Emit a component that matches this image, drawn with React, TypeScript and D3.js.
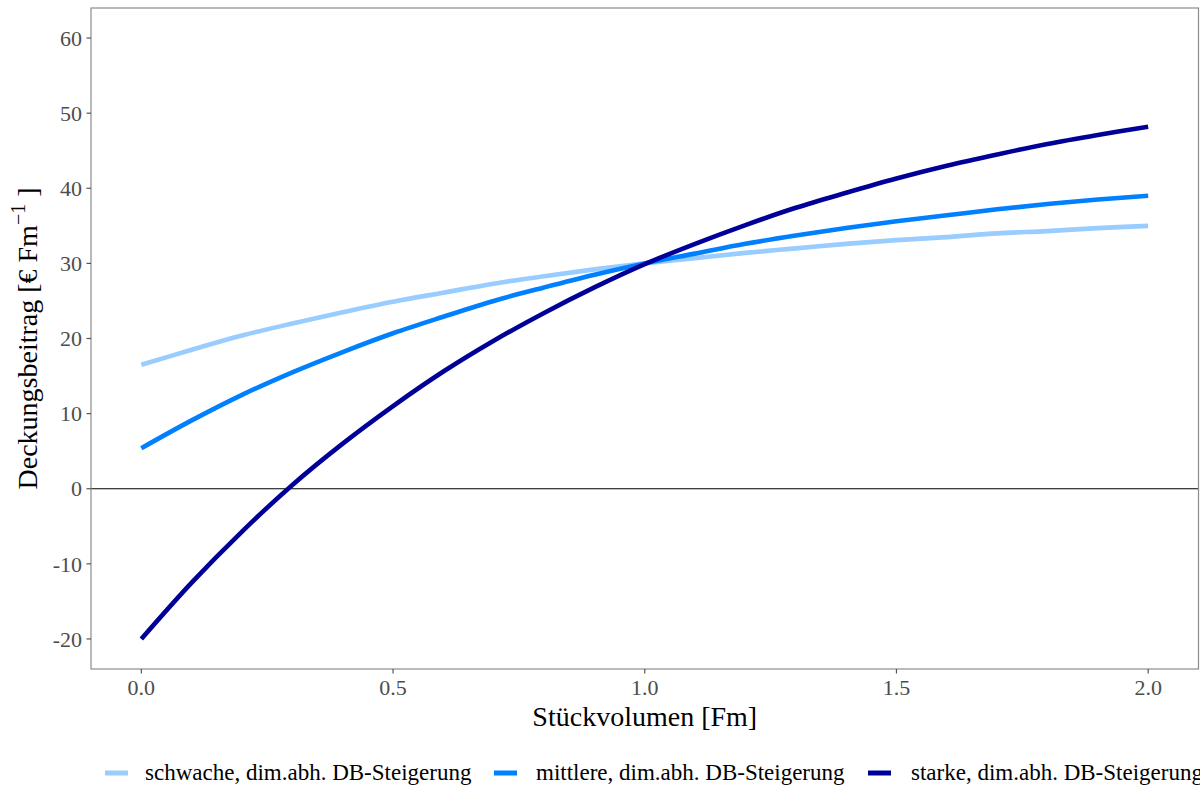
import React from "react";
import * as d3 from "d3";

// Stückvolumen [Fm]
const volumes = [0, 0.1, 0.2, 0.3, 0.4, 0.5, 0.6, 0.7, 0.8, 0.9, 1.0, 1.1, 1.2, 1.3, 1.4, 1.5, 1.6, 1.7, 1.8, 1.9, 2.0];

// Deckungsbeitrag [€ Fm^-1] per scenario
const schwache = [16.5, 18.5, 20.4, 22.0, 23.5, 24.9, 26.1, 27.3, 28.3, 29.2, 30.0, 30.7, 31.4, 32.0, 32.6, 33.1, 33.5, 34.0, 34.3, 34.7, 35.0];
const mittlere = [5.4, 9.1, 12.5, 15.5, 18.2, 20.7, 22.9, 25.0, 26.8, 28.5, 30.0, 31.3, 32.6, 33.7, 34.7, 35.6, 36.4, 37.2, 37.9, 38.5, 39.0];
const starke = [-20.0, -12.5, -5.7, 0.5, 6.0, 11.0, 15.6, 19.7, 23.4, 26.8, 29.9, 32.6, 35.1, 37.4, 39.4, 41.3, 43.0, 44.5, 45.9, 47.1, 48.2];

const seriesNames = [
  "schwache, dim.abh. DB-Steigerung",
  "mittlere, dim.abh. DB-Steigerung",
  "starke, dim.abh. DB-Steigerung",
];
const seriesColors = ["#99CCFF", "#0080FF", "#000099"];

const xTicks = [0, 0.5, 1.0, 1.5, 2.0];
const yTicks = [-20, -10, 0, 10, 20, 30, 40, 50, 60];

const W = 1200;
const H = 787;
const FONT = "'Liberation Serif', 'Times New Roman', serif";

export default function App() {
  const left = 91;
  const right = 1198.5;
  const top = 8;
  const bottom = 669;

  const x = d3.scaleLinear().domain([-0.1, 2.1]).range([left, right]);
  const y = d3.scaleLinear().domain([-24, 64]).range([bottom, top]);

  const series = [schwache, mittlere, starke];
  const line = d3
    .line<number>()
    .x((_, i) => x(volumes[i]))
    .y((d) => y(d))
    .curve(d3.curveCatmullRom.alpha(0.5));

  // legend layout along the bottom
  const legendY = 773;
  const legendItems = [
    { keyX: 105, textX: 145 },
    { keyX: 494, textX: 536 },
    { keyX: 868, textX: 911 },
  ];

  return (
    <svg
      width={W}
      height={H}
      style={{ position: "absolute", left: 0, top: 0, background: "#fff" }}
      fontFamily={FONT}
    >
      <rect x={0} y={0} width={W} height={H} fill="#fff" />

      {/* zero reference line */}
      <line x1={left} x2={right} y1={y(0)} y2={y(0)} stroke="#000" strokeWidth={1.2} />

      {/* curves */}
      {series.map((s, i) => (
        <path
          key={i}
          d={line(s) || ""}
          fill="none"
          stroke={seriesColors[i]}
          strokeWidth={4.6}
          strokeLinecap="butt"
          strokeLinejoin="round"
        />
      ))}

      {/* panel border */}
      <rect
        x={left}
        y={top}
        width={right - left}
        height={bottom - top}
        fill="none"
        stroke="#8c8c8c"
        strokeWidth={1.2}
      />

      {/* y axis */}
      {yTicks.map((t) => (
        <g key={t}>
          <line x1={left - 4.5} x2={left} y1={y(t)} y2={y(t)} stroke="#555" strokeWidth={1.2} />
          <text
            x={left - 9}
            y={y(t)}
            dy="0.35em"
            textAnchor="end"
            fontSize={22}
            fill="#4d4d4d"
          >
            {t}
          </text>
        </g>
      ))}

      {/* x axis */}
      {xTicks.map((t) => (
        <g key={t}>
          <line x1={x(t)} x2={x(t)} y1={bottom} y2={bottom + 4.5} stroke="#555" strokeWidth={1.2} />
          <text x={x(t)} y={695} textAnchor="middle" fontSize={22} fill="#4d4d4d">
            {t.toFixed(1)}
          </text>
        </g>
      ))}

      {/* axis titles */}
      <text x={(left + right) / 2} y={726} textAnchor="middle" fontSize={28} fill="#000">
        Stückvolumen [Fm]
      </text>
      <text
        transform={`translate(37,${(top + bottom) / 2}) rotate(-90)`}
        textAnchor="middle"
        fontSize={28}
        fill="#000"
      >
        Deckungsbeitrag [€ Fm
        <tspan fontSize={20} dy={-12}>−1</tspan>
        <tspan dy={12}> ]</tspan>
      </text>

      {/* legend */}
      {legendItems.map((it, i) => (
        <g key={i}>
          <line
            x1={it.keyX}
            x2={it.keyX + 23}
            y1={legendY}
            y2={legendY}
            stroke={seriesColors[i]}
            strokeWidth={5}
          />
          <text x={it.textX} y={legendY} dy="0.32em" fontSize={23} fill="#000">
            {seriesNames[i]}
          </text>
        </g>
      ))}
    </svg>
  );
}
